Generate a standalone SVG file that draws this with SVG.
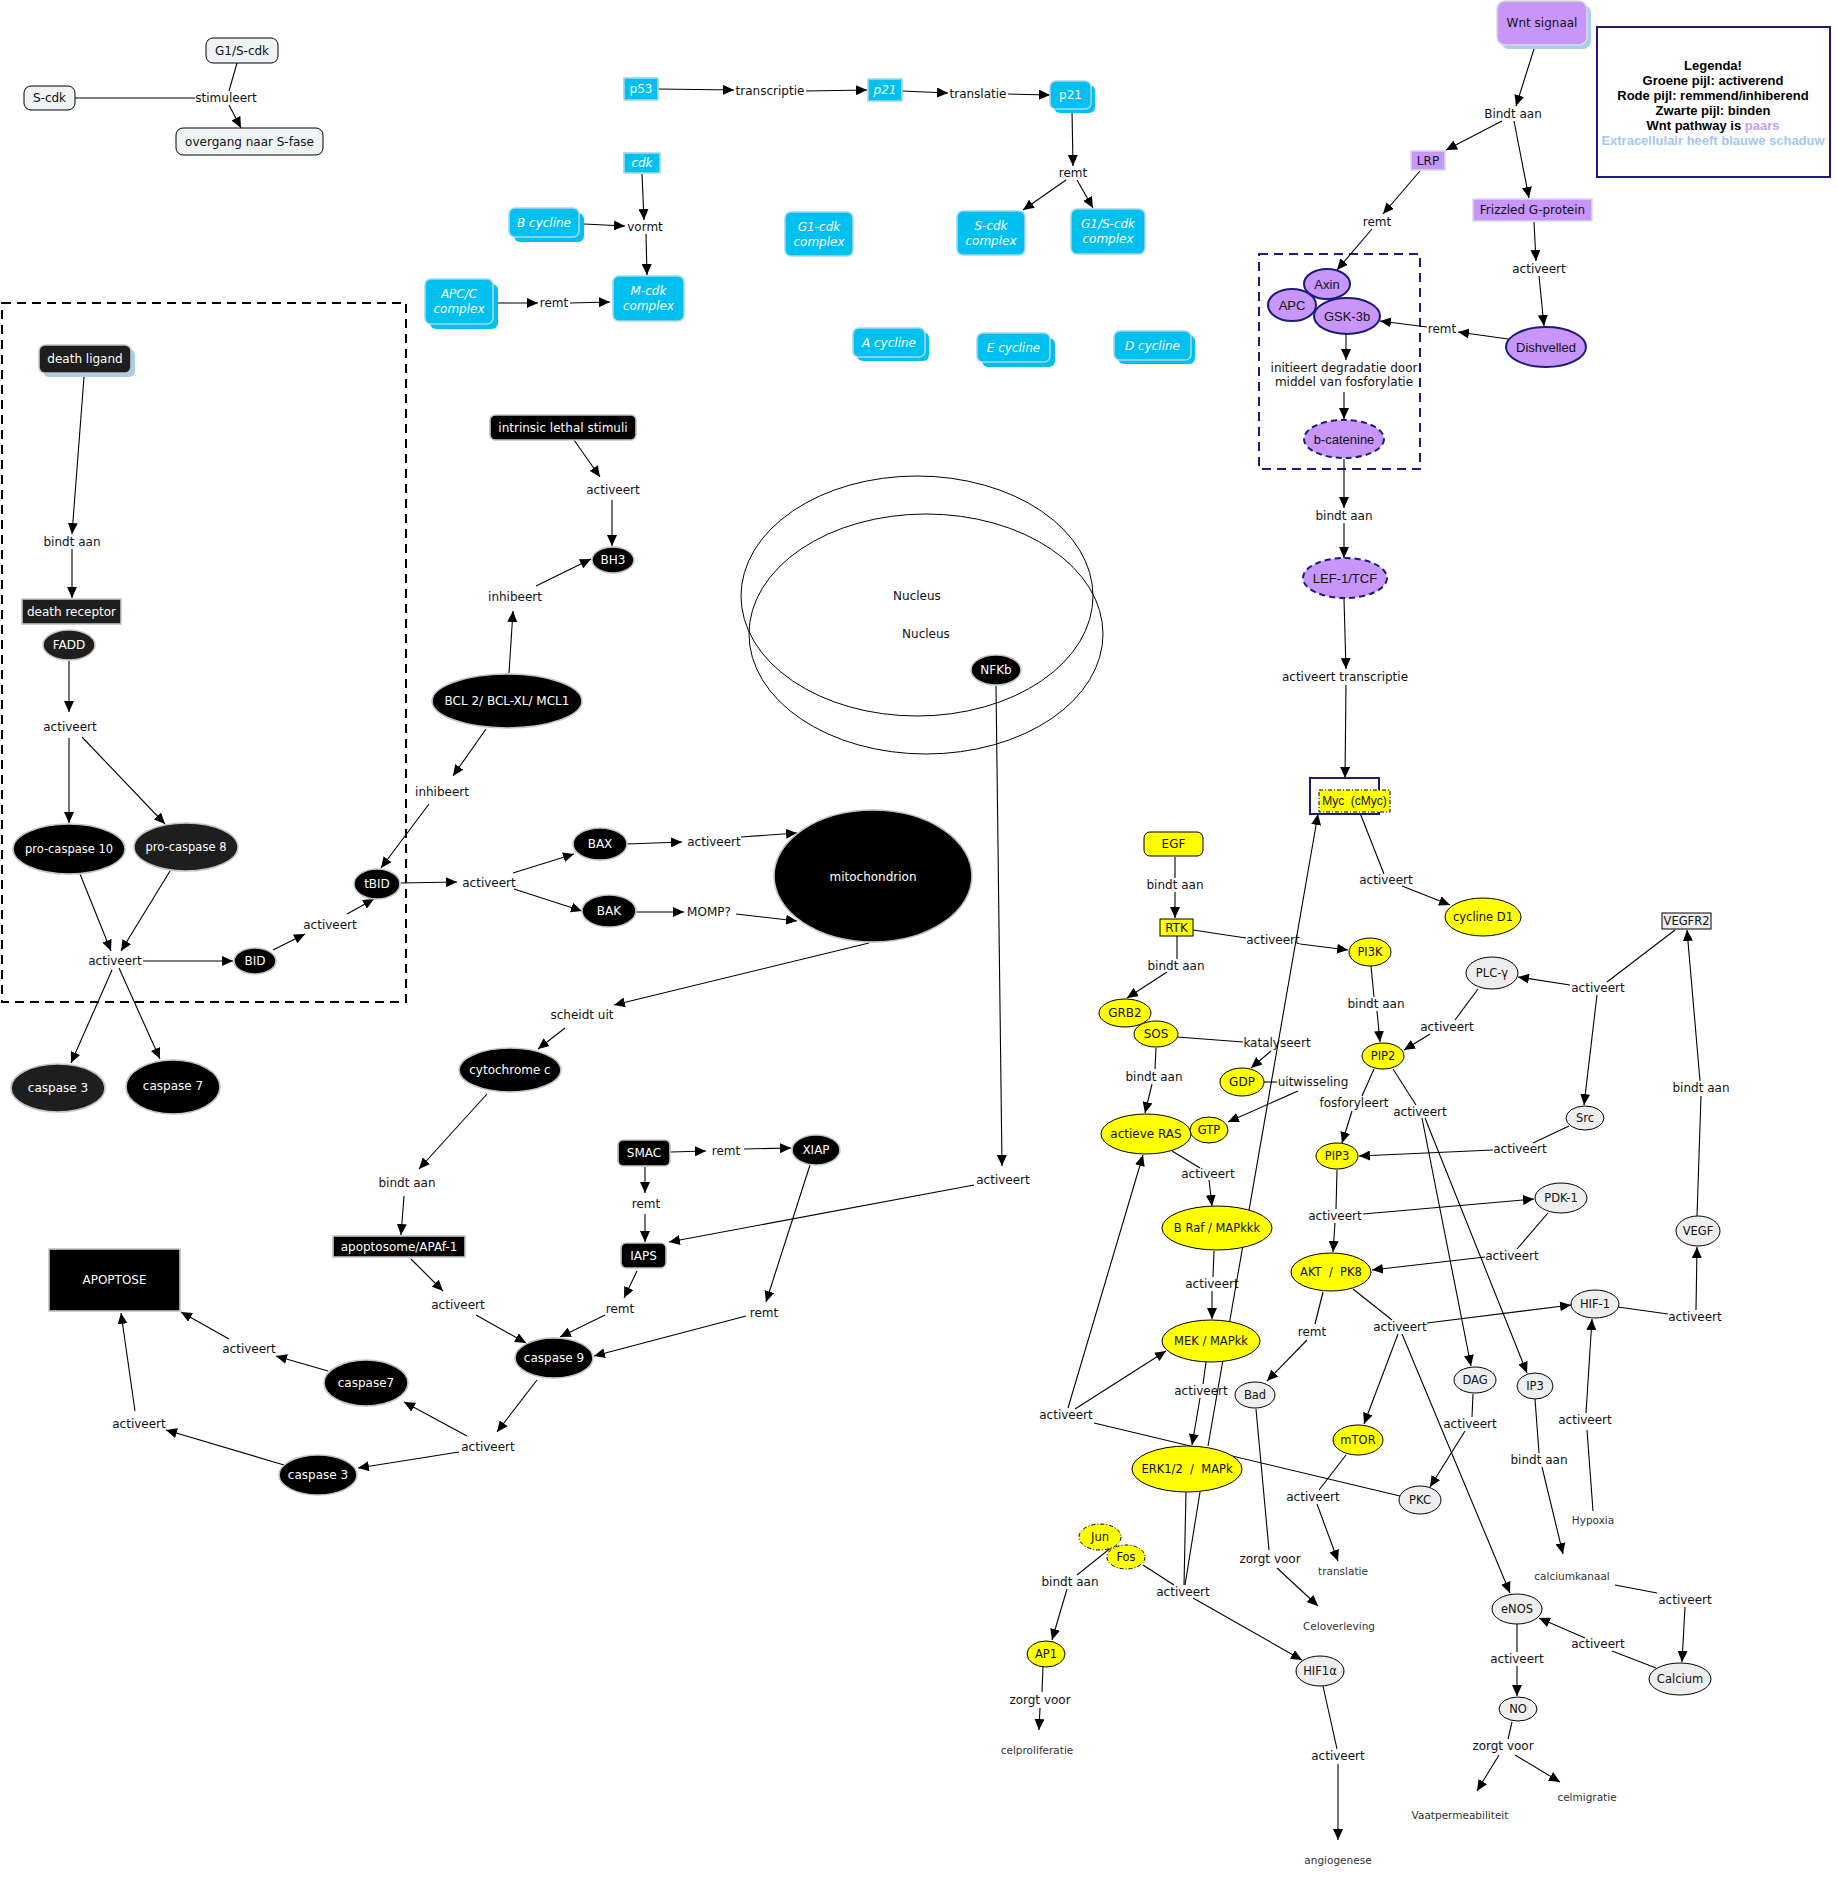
<svg xmlns="http://www.w3.org/2000/svg" width="1837" height="1884" viewBox="0 0 1837 1884">
<defs>
<marker id="ah" viewBox="0 0 11 10" refX="11" refY="5" markerWidth="11" markerHeight="10" markerUnits="userSpaceOnUse" orient="auto"><path d="M0,0 L11,5 L0,10 z" fill="#000"/></marker>
<style>
.c path{stroke:#000;stroke-width:1.1;fill:none}
.c path.a{marker-end:url(#ah)}
text{font-family:"DejaVu Sans",Verdana,sans-serif;font-size:12px;text-anchor:middle;dominant-baseline:central;fill:#111}
.w{fill:#fff}
.i{font-style:italic;fill:#fff}
.s{font-size:11.5px}
.sm{font-size:10.5px;fill:#333}
.ar{font-family:"Liberation Sans",Arial,sans-serif;font-size:13px}
.lg{font-family:"Liberation Sans",Arial,sans-serif;font-size:13px;font-weight:bold;fill:#000}
.lb{fill:#eef3f5;stroke:#000;stroke-width:1}
.cy{fill:#00c0f0;stroke:#a9d6e6;stroke-width:1.6}
.cs{fill:#00c0f0}
.dk{fill:#000;stroke:#c4c4c4;stroke-width:1.6}
.d2{fill:#1e1e1e;stroke:#c4c4c4;stroke-width:1.6}
.pu{fill:#c896fa;stroke:#dadada;stroke-width:1.6}
.pe{fill:#c896fa;stroke:#1c1c78;stroke-width:2}
.pd{fill:#c896fa;stroke:#1c1c78;stroke-width:2;stroke-dasharray:6,4}
.ye{fill:#ffff00;stroke:#000;stroke-width:1}
.yd{fill:#ffff00;stroke:#000;stroke-width:1;stroke-dasharray:4,2,1,2}
.gr{fill:#eeeeee;stroke:#000;stroke-width:1}
</style>
</defs>
<rect width="1837" height="1884" fill="#fff"/>

<g id="regions">
<rect x="2" y="303" width="404" height="699" fill="none" stroke="#000" stroke-width="2" stroke-dasharray="9,6"/>
<rect x="1259" y="254" width="161" height="215" fill="none" stroke="#1c1c78" stroke-width="2" stroke-dasharray="9,6"/>
<ellipse cx="917" cy="596" rx="176" ry="120" fill="none" stroke="#000" stroke-width="1"/>
<ellipse cx="926" cy="634" rx="177" ry="120" fill="none" stroke="#000" stroke-width="1"/>
<text x="917" y="596">Nucleus</text>
<text x="926" y="634">Nucleus</text>
</g>

<g id="connectors" class="c">
<path d="M75,98 L195,98"/>
<path d="M237,63 L229,91"/>
<path class="a" d="M229,105 L241,128"/>
<path class="a" d="M658,89 L734,90"/>
<path class="a" d="M806,91 L867,90"/>
<path class="a" d="M902,91 L948,93"/>
<path class="a" d="M1008,94 L1050,95"/>
<path class="a" d="M1072,110 L1073,166"/>
<path class="a" d="M1066,180 L1023,210"/>
<path class="a" d="M1077,180 L1093,208"/>
<path class="a" d="M642,174 L644,220"/>
<path class="a" d="M584,224 L625,226"/>
<path class="a" d="M646,234 L647,275"/>
<path class="a" d="M498,303 L538,303"/>
<path class="a" d="M570,303 L610,302"/>
<path class="a" d="M1534,49 L1516,106"/>
<path class="a" d="M1502,121 L1446,150"/>
<path class="a" d="M1514,121 L1529,198"/>
<path class="a" d="M1420,171 L1383,214"/>
<path class="a" d="M1372,229 L1337,270"/>
<path class="a" d="M1534,222 L1536,261"/>
<path class="a" d="M1539,276 L1544,326"/>
<path class="a" d="M1508,339 L1458,332"/>
<path class="a" d="M1427,327 L1380,321"/>
<path class="a" d="M1346,334 L1346,360"/>
<path class="a" d="M1344,392 L1344,419"/>
<path class="a" d="M1344,459 L1344,508"/>
<path class="a" d="M1344,523 L1344,558"/>
<path class="a" d="M1344,599 L1346,669"/>
<path class="a" d="M1346,685 L1345,778"/>
<path d="M1360,813 L1384,874"/>
<path class="a" d="M1402,886 L1450,905"/>
<path class="a" d="M84,377 L72,534"/>
<path class="a" d="M72,549 L72,598"/>
<path class="a" d="M69,661 L69,712"/>
<path class="a" d="M69,738 L69,823"/>
<path class="a" d="M82,737 L165,824"/>
<path class="a" d="M80,874 L111,951"/>
<path class="a" d="M170,871 L121,951"/>
<path class="a" d="M143,961 L233,961"/>
<path class="a" d="M112,970 L71,1063"/>
<path class="a" d="M119,968 L160,1059"/>
<path class="a" d="M273,950 L305,934"/>
<path class="a" d="M347,914 L374,899"/>
<path class="a" d="M574,440 L600,477"/>
<path class="a" d="M612,500 L612,546"/>
<path class="a" d="M509,673 L513,611"/>
<path class="a" d="M536,586 L591,559"/>
<path class="a" d="M486,729 L453,776"/>
<path class="a" d="M429,804 L381,868"/>
<path class="a" d="M401,883 L457,882"/>
<path class="a" d="M513,873 L574,854"/>
<path class="a" d="M514,889 L582,911"/>
<path class="a" d="M627,844 L682,842"/>
<path class="a" d="M741,837 L797,833"/>
<path class="a" d="M636,912 L684,912"/>
<path class="a" d="M736,914 L797,921"/>
<path class="a" d="M869,943 L614,1005"/>
<path class="a" d="M565,1028 L538,1049"/>
<path class="a" d="M487,1094 L419,1169"/>
<path class="a" d="M404,1196 L401,1235"/>
<path class="a" d="M411,1259 L443,1291"/>
<path class="a" d="M476,1315 L526,1343"/>
<path class="a" d="M671,1152 L706,1151"/>
<path class="a" d="M744,1149 L791,1148"/>
<path class="a" d="M645,1167 L645,1193"/>
<path class="a" d="M645,1214 L645,1242"/>
<path class="a" d="M996,686 L1002,1166"/>
<path class="a" d="M974,1185 L669,1242"/>
<path class="a" d="M637,1271 L624,1298"/>
<path class="a" d="M605,1315 L560,1337"/>
<path class="a" d="M810,1165 L766,1302"/>
<path class="a" d="M746,1316 L594,1356"/>
<path class="a" d="M537,1380 L497,1432"/>
<path class="a" d="M467,1436 L404,1402"/>
<path class="a" d="M459,1452 L358,1468"/>
<path class="a" d="M328,1371 L276,1356"/>
<path class="a" d="M229,1339 L181,1312"/>
<path class="a" d="M284,1465 L166,1430"/>
<path class="a" d="M135,1411 L121,1313"/>
<path d="M1175,857 L1175,878"/>
<path class="a" d="M1175,892 L1175,918"/>
<path d="M1193,930 L1246,938"/>
<path class="a" d="M1300,944 L1348,950"/>
<path d="M1177,936 L1177,959"/>
<path class="a" d="M1167,972 L1127,998"/>
<path d="M1177,1037 L1243,1042"/>
<path class="a" d="M1271,1051 L1251,1068"/>
<path d="M1264,1082 L1277,1082"/>
<path class="a" d="M1298,1091 L1228,1122"/>
<path d="M1156,1048 L1155,1069"/>
<path class="a" d="M1152,1084 L1145,1113"/>
<path d="M1172,1151 L1200,1168"/>
<path class="a" d="M1209,1180 L1212,1206"/>
<path d="M1214,1251 L1213,1277"/>
<path class="a" d="M1212,1291 L1212,1319"/>
<path class="a" d="M1208,1446 L1318,814"/>
<path d="M1206,1362 L1203,1384"/>
<path class="a" d="M1200,1398 L1192,1445"/>
<path class="a" d="M1075,1409 L1166,1351"/>
<path class="a" d="M1068,1408 L1143,1155"/>
<path d="M1400,1496 L1094,1423"/>
<path d="M1371,966 L1374,997"/>
<path class="a" d="M1377,1011 L1380,1042"/>
<path d="M1478,989 L1455,1020"/>
<path class="a" d="M1430,1034 L1404,1050"/>
<path d="M1374,1069 L1362,1096"/>
<path class="a" d="M1352,1111 L1342,1143"/>
<path d="M1393,1069 L1416,1105"/>
<path class="a" d="M1422,1118 L1471,1366"/>
<path class="a" d="M1425,1118 L1527,1373"/>
<path d="M1675,930 L1607,982"/>
<path class="a" d="M1570,985 L1518,977"/>
<path class="a" d="M1597,995 L1584,1105"/>
<path d="M1569,1126 L1533,1143"/>
<path class="a" d="M1493,1150 L1359,1156"/>
<path d="M1337,1170 L1336,1209"/>
<path class="a" d="M1335,1223 L1333,1252"/>
<path class="a" d="M1363,1214 L1534,1199"/>
<path d="M1548,1213 L1517,1249"/>
<path class="a" d="M1485,1257 L1372,1270"/>
<path d="M1323,1292 L1315,1324"/>
<path class="a" d="M1307,1340 L1267,1381"/>
<path d="M1353,1289 L1392,1320"/>
<path class="a" d="M1427,1323 L1571,1305"/>
<path class="a" d="M1398,1334 L1364,1424"/>
<path class="a" d="M1402,1334 L1510,1593"/>
<path d="M1618,1307 L1668,1314"/>
<path class="a" d="M1696,1310 L1697,1247"/>
<path d="M1697,1216 L1701,1096"/>
<path class="a" d="M1700,1081 L1687,930"/>
<path d="M1593,1511 L1587,1430"/>
<path class="a" d="M1586,1413 L1592,1319"/>
<path d="M1256,1409 L1269,1550"/>
<path class="a" d="M1277,1568 L1318,1606"/>
<path d="M1346,1455 L1319,1490"/>
<path class="a" d="M1317,1504 L1338,1561"/>
<path d="M1473,1394 L1472,1417"/>
<path class="a" d="M1465,1431 L1430,1487"/>
<path d="M1535,1399 L1539,1453"/>
<path class="a" d="M1542,1467 L1563,1554"/>
<path d="M1615,1585 L1657,1593"/>
<path class="a" d="M1685,1607 L1682,1662"/>
<path d="M1656,1668 L1612,1651"/>
<path class="a" d="M1585,1638 L1539,1618"/>
<path d="M1517,1624 L1517,1652"/>
<path class="a" d="M1517,1666 L1517,1696"/>
<path d="M1512,1722 L1508,1739"/>
<path class="a" d="M1499,1755 L1477,1791"/>
<path class="a" d="M1515,1755 L1560,1782"/>
<path d="M1112,1547 L1077,1575"/>
<path class="a" d="M1067,1589 L1052,1640"/>
<path d="M1043,1667 L1042,1692"/>
<path class="a" d="M1040,1708 L1039,1730"/>
<path d="M1186,1492 L1184,1585"/>
<path d="M1200,1492 L1185,1585"/>
<path d="M1143,1565 L1174,1585"/>
<path class="a" d="M1193,1598 L1302,1660"/>
<path d="M1323,1686 L1337,1749"/>
<path class="a" d="M1338,1764 L1338,1840"/>
</g>

<g id="link-labels">
<text x="226" y="98">stimuleert</text>
<text x="770" y="91">transcriptie</text>
<text x="978" y="94">translatie</text>
<text x="1073" y="173">remt</text>
<text x="645" y="227">vormt</text>
<text x="554" y="303">remt</text>
<text x="1513" y="114">Bindt aan</text>
<text x="1377" y="222">remt</text>
<text x="1539" y="269">activeert</text>
<text x="1442" y="329">remt</text>
<text x="1344" y="368">initieert degradatie door</text>
<text x="1344" y="382">middel van fosforylatie</text>
<text x="1344" y="516">bindt aan</text>
<text x="1345" y="677">activeert transcriptie</text>
<text x="1386" y="880">activeert</text>
<text x="72" y="542">bindt aan</text>
<text x="70" y="727">activeert</text>
<text x="115" y="961">activeert</text>
<text x="330" y="925">activeert</text>
<text x="613" y="490">activeert</text>
<text x="515" y="597">inhibeert</text>
<text x="442" y="792">inhibeert</text>
<text x="489" y="883">activeert</text>
<text x="714" y="842">activeert</text>
<text x="709" y="912">MOMP?</text>
<text x="582" y="1015">scheidt uit</text>
<text x="407" y="1183">bindt aan</text>
<text x="458" y="1305">activeert</text>
<text x="726" y="1151">remt</text>
<text x="646" y="1204">remt</text>
<text x="1003" y="1180">activeert</text>
<text x="620" y="1309">remt</text>
<text x="764" y="1313">remt</text>
<text x="488" y="1447">activeert</text>
<text x="249" y="1349">activeert</text>
<text x="139" y="1424">activeert</text>
<text x="1175" y="885">bindt aan</text>
<text x="1273" y="940">activeert</text>
<text x="1176" y="966">bindt aan</text>
<text x="1277" y="1043">katalyseert</text>
<text x="1313" y="1082">uitwisseling</text>
<text x="1154" y="1077">bindt aan</text>
<text x="1208" y="1174">activeert</text>
<text x="1212" y="1284">activeert</text>
<text x="1201" y="1391">activeert</text>
<text x="1066" y="1415">activeert</text>
<text x="1376" y="1004">bindt aan</text>
<text x="1447" y="1027">activeert</text>
<text x="1354" y="1103">fosforyleert</text>
<text x="1420" y="1112">activeert</text>
<text x="1598" y="988">activeert</text>
<text x="1520" y="1149">activeert</text>
<text x="1335" y="1216">activeert</text>
<text x="1512" y="1256">activeert</text>
<text x="1312" y="1332">remt</text>
<text x="1400" y="1327">activeert</text>
<text x="1695" y="1317">activeert</text>
<text x="1701" y="1088">bindt aan</text>
<text x="1585" y="1420">activeert</text>
<text x="1593" y="1520" class="sm">Hypoxia</text>
<text x="1270" y="1559">zorgt voor</text>
<text x="1339" y="1626" class="sm">Celoverleving</text>
<text x="1313" y="1497">activeert</text>
<text x="1343" y="1571" class="sm">translatie</text>
<text x="1470" y="1424">activeert</text>
<text x="1539" y="1460">bindt aan</text>
<text x="1572" y="1576" class="sm">calciumkanaal</text>
<text x="1685" y="1600">activeert</text>
<text x="1598" y="1644">activeert</text>
<text x="1517" y="1659">activeert</text>
<text x="1503" y="1746">zorgt voor</text>
<text x="1460" y="1815" class="sm">Vaatpermeabiliteit</text>
<text x="1587" y="1797" class="sm">celmigratie</text>
<text x="1070" y="1582">bindt aan</text>
<text x="1040" y="1700">zorgt voor</text>
<text x="1037" y="1750" class="sm">celproliferatie</text>
<text x="1183" y="1592">activeert</text>
<text x="1338" y="1756">activeert</text>
<text x="1338" y="1860" class="sm">angiogenese</text>
</g>

<g id="n-g1s-cdk"><rect class="lb" x="206" y="38" width="72" height="25" rx="7"/><text x="242" y="50.5">G1/S-cdk</text></g>
<g id="n-s-cdk"><rect class="lb" x="24" y="86" width="51" height="24" rx="7"/><text x="49.5" y="98">S-cdk</text></g>
<g id="n-overgang"><rect class="lb" x="176" y="128" width="147" height="27" rx="7"/><text x="249.5" y="141.5">overgang naar S-fase</text></g>
<g id="n-p53"><rect class="cy" x="624" y="78" width="34" height="22"/><text class="w" x="641" y="89">p53</text></g>
<g id="n-p21i"><rect class="cy" x="868" y="79" width="34" height="22"/><text class="i" x="885" y="90">p21</text></g>
<g id="n-p21"><rect class="cs" x="1054" y="85" width="41" height="28" rx="6"/><rect class="cy" x="1050" y="81" width="41" height="28" rx="6"/><text class="w" x="1070.5" y="95">p21</text></g>
<g id="n-cdk"><rect class="cy" x="624" y="153" width="36" height="20"/><text class="i" x="642" y="163">cdk</text></g>
<g id="n-bcycline"><rect class="cs" x="514" y="213" width="70" height="29" rx="6"/><rect class="cy" x="509" y="208" width="70" height="29" rx="6"/><text class="i" x="544" y="222.5">B cycline</text></g>
<g id="n-apcc"><rect class="cs" x="430" y="284" width="68" height="45" rx="6"/><rect class="cy" x="425" y="279" width="68" height="45" rx="6"/><text class="i" x="459" y="294">APC/C</text><text class="i" x="459" y="309">complex</text></g>
<g id="n-mcdk"><rect class="cy" x="613" y="276" width="71" height="45" rx="6"/><text class="i" x="648.5" y="291">M-cdk</text><text class="i" x="648.5" y="306">complex</text></g>
<g id="n-g1cdk"><rect class="cy" x="785" y="212" width="68" height="44" rx="6"/><text class="i" x="819" y="226.5">G1-cdk</text><text class="i" x="819" y="241.5">complex</text></g>
<g id="n-scdkc"><rect class="cy" x="957" y="211" width="68" height="44" rx="6"/><text class="i" x="991" y="225.5">S-cdk</text><text class="i" x="991" y="240.5">complex</text></g>
<g id="n-g1scdkc"><rect class="cy" x="1071" y="209" width="74" height="45" rx="6"/><text class="i" x="1108" y="224">G1/S-cdk</text><text class="i" x="1108" y="239">complex</text></g>
<g id="n-acycline"><rect class="cs" x="857" y="332" width="72" height="29" rx="6"/><rect class="cy" x="853" y="328" width="72" height="29" rx="6"/><text class="i" x="889" y="342.5">A cycline</text></g>
<g id="n-ecycline"><rect class="cs" x="982" y="338" width="73" height="29" rx="6"/><rect class="cy" x="977" y="333" width="73" height="29" rx="6"/><text class="i" x="1013.5" y="347.5">E cycline</text></g>
<g id="n-dcycline"><rect class="cs" x="1118" y="335" width="77" height="29" rx="6"/><rect class="cy" x="1114" y="331" width="77" height="29" rx="6"/><text class="i" x="1152.5" y="345.5">D cycline</text></g>

<g id="n-wnt"><rect x="1501" y="5" width="90" height="44" rx="8" fill="#a8ccf2"/><rect class="pu" x="1497" y="1" width="90" height="44" rx="8"/><text x="1542" y="23">Wnt signaal</text></g>
<g id="n-lrp"><rect class="pu" x="1411" y="151" width="34" height="19"/><text x="1428" y="160.5">LRP</text></g>
<g id="n-frizzled"><rect class="pu" x="1473" y="199" width="119" height="22"/><text x="1532.5" y="210">Frizzled G-protein</text></g>
<g id="n-dishvelled"><ellipse class="pe" cx="1546" cy="347" rx="40" ry="20"/><text class="ar" x="1546" y="347">Dishvelled</text></g>
<g id="n-apc"><ellipse class="pe" cx="1292" cy="305" rx="24" ry="16"/><text class="ar" x="1292" y="305">APC</text></g>
<g id="n-axin"><ellipse class="pe" cx="1327" cy="284" rx="23" ry="15"/><text class="ar" x="1327" y="284">Axin</text></g>
<g id="n-gsk3b"><ellipse class="pe" cx="1347" cy="316" rx="33" ry="18"/><text class="ar" x="1347" y="316">GSK-3b</text></g>
<g id="n-bcatenine"><ellipse class="pd" cx="1344" cy="439" rx="40" ry="19"/><text class="ar" x="1344" y="439">b-catenine</text></g>
<g id="n-lef"><ellipse class="pd" cx="1345" cy="578" rx="42" ry="20"/><text class="ar" x="1345" y="578">LEF-1/TCF</text></g>
<g id="n-myc"><rect x="1310" y="778" width="69" height="36" fill="none" stroke="#1c1c78" stroke-width="2"/><rect class="yd" x="1319" y="790" width="71" height="22"/><text class="ar" style="font-size:12px" x="1354.5" y="801" xml:space="preserve">Myc  (cMyc)</text></g>

<g id="legend">
<rect x="1597" y="27" width="233" height="150" fill="#fff" stroke="#1c1c78" stroke-width="2"/>
<text class="lg" x="1713" y="65">Legenda!</text>
<text class="lg" x="1713" y="80">Groene pijl: activerend</text>
<text class="lg" x="1713" y="95">Rode pijl: remmend/inhiberend</text>
<text class="lg" x="1713" y="110">Zwarte pijl: binden</text>
<text class="lg" x="1713" y="125">Wnt pathway is <tspan fill="#c8a0f2">paars</tspan></text>
<text class="lg" x="1713" y="140" style="fill:#a4c8f0">Extracellulair heeft blauwe schaduw</text>
</g>

<g id="n-deathligand"><rect x="43" y="349" width="92" height="28" rx="6" fill="#a8ccf2"/><rect class="d2" x="39" y="345" width="92" height="28" rx="6"/><text class="w" x="85" y="359">death ligand</text></g>
<g id="n-deathreceptor"><rect class="d2" x="22" y="599" width="99" height="25"/><text class="w" x="71.5" y="611.5">death receptor</text></g>
<g id="n-fadd"><ellipse class="d2" cx="69" cy="645" rx="26" ry="15"/><text class="w" x="69" y="645">FADD</text></g>
<g id="n-procasp10"><ellipse class="dk" cx="69" cy="849" rx="56" ry="25"/><text class="w s" x="69" y="849">pro-caspase 10</text></g>
<g id="n-procasp8"><ellipse class="d2" cx="186" cy="847" rx="52" ry="24"/><text class="w s" x="186" y="847">pro-caspase 8</text></g>
<g id="n-bid"><ellipse class="dk" cx="255" cy="961" rx="21" ry="13"/><text class="w" x="255" y="961">BID</text></g>
<g id="n-tbid"><ellipse class="dk" cx="377" cy="884" rx="23" ry="15"/><text class="w" x="377" y="884">tBID</text></g>
<g id="n-casp3a"><ellipse class="d2" cx="58" cy="1088" rx="47" ry="24"/><text class="w" x="58" y="1088">caspase 3</text></g>
<g id="n-casp7a"><ellipse class="dk" cx="173" cy="1087" rx="47" ry="27"/><text class="w" x="173" y="1086">caspase 7</text></g>
<g id="n-intrinsic"><rect class="dk" x="490" y="415" width="146" height="25" rx="5"/><text class="w" x="563" y="427.5">intrinsic lethal stimuli</text></g>
<g id="n-bh3"><ellipse class="dk" cx="613" cy="560" rx="21" ry="13"/><text class="w" x="613" y="560">BH3</text></g>
<g id="n-bcl2"><ellipse class="dk" cx="507" cy="701" rx="75" ry="27"/><text class="w" x="507" y="701">BCL 2/ BCL-XL/ MCL1</text></g>
<g id="n-bax"><ellipse class="dk" cx="600" cy="844" rx="27" ry="16"/><text class="w" x="600" y="844">BAX</text></g>
<g id="n-bak"><ellipse class="dk" cx="609" cy="911" rx="27" ry="16"/><text class="w" x="609" y="911">BAK</text></g>
<g id="n-mito"><ellipse class="dk" cx="873" cy="876" rx="99" ry="66"/><text class="w" x="873" y="877">mitochondrion</text></g>
<g id="n-nfkb"><ellipse class="dk" cx="996" cy="670" rx="25" ry="15"/><text class="w" x="996" y="670">NFKb</text></g>
<g id="n-cytc"><ellipse class="dk" cx="510" cy="1070" rx="51" ry="22"/><text class="w" x="510" y="1070">cytochrome c</text></g>
<g id="n-apoptosome"><rect class="dk" x="333" y="1236" width="132" height="21"/><text class="w" x="399" y="1246.5">apoptosome/APAf-1</text></g>
<g id="n-apoptose"><rect class="dk" x="49" y="1249" width="131" height="62"/><text class="w" x="114.5" y="1280">APOPTOSE</text></g>
<g id="n-smac"><rect class="dk" x="618" y="1140" width="52" height="26" rx="5"/><text class="w" x="644" y="1153">SMAC</text></g>
<g id="n-xiap"><ellipse class="dk" cx="816" cy="1150" rx="24" ry="15"/><text class="w" x="816" y="1150">XIAP</text></g>
<g id="n-iaps"><rect class="dk" x="621" y="1243" width="45" height="25" rx="5"/><text class="w" x="643.5" y="1255.5">IAPS</text></g>
<g id="n-casp9"><ellipse class="dk" cx="554" cy="1358" rx="39" ry="20"/><text class="w" x="554" y="1358">caspase 9</text></g>
<g id="n-casp7b"><ellipse class="dk" cx="366" cy="1383" rx="42" ry="23"/><text class="w" x="366" y="1383">caspase7</text></g>
<g id="n-casp3b"><ellipse class="dk" cx="318" cy="1475" rx="39" ry="20"/><text class="w" x="318" y="1475">caspase 3</text></g>

<g id="n-egf"><rect class="ye" x="1144" y="832" width="59" height="24" rx="6"/><text x="1173.5" y="844">EGF</text></g>
<g id="n-rtk"><rect class="ye" x="1160" y="919" width="33" height="17"/><text x="1176.5" y="927.5">RTK</text></g>
<g id="n-pi3k"><ellipse class="ye" cx="1370" cy="952" rx="21" ry="14"/><text class="s" x="1370" y="952">PI3K</text></g>
<g id="n-grb2"><ellipse class="ye" cx="1125" cy="1013" rx="26" ry="14"/><text x="1125" y="1013">GRB2</text></g>
<g id="n-sos"><ellipse class="ye" cx="1156" cy="1034" rx="22" ry="13"/><text x="1156" y="1034">SOS</text></g>
<g id="n-gdp"><ellipse class="ye" cx="1242" cy="1082" rx="22" ry="14"/><text x="1242" y="1082">GDP</text></g>
<g id="n-ras"><ellipse class="ye" cx="1146" cy="1134" rx="45" ry="20"/><text x="1146" y="1134">actieve RAS</text></g>
<g id="n-gtp"><ellipse class="ye" cx="1209" cy="1130" rx="19" ry="13"/><text class="s" x="1209" y="1130">GTP</text></g>
<g id="n-braf"><ellipse class="ye" cx="1217" cy="1228" rx="55" ry="22"/><text class="s" x="1217" y="1228">B Raf / MAPkkk</text></g>
<g id="n-mek"><ellipse class="ye" cx="1211" cy="1341" rx="49" ry="21"/><text class="s" x="1211" y="1341">MEK / MAPkk</text></g>
<g id="n-erk"><ellipse class="ye" cx="1187" cy="1469" rx="55" ry="23"/><text class="s" x="1187" y="1469" xml:space="preserve">ERK1/2  /  MAPk</text></g>
<g id="n-pip2"><ellipse class="ye" cx="1383" cy="1056" rx="21" ry="13"/><text class="s" x="1383" y="1056">PIP2</text></g>
<g id="n-pip3"><ellipse class="ye" cx="1337" cy="1156" rx="21" ry="13"/><text class="s" x="1337" y="1156">PIP3</text></g>
<g id="n-akt"><ellipse class="ye" cx="1331" cy="1272" rx="40" ry="19"/><text class="s" x="1331" y="1272" xml:space="preserve">AKT  /  PK8</text></g>
<g id="n-cyclined1"><ellipse class="ye" cx="1483" cy="917" rx="38" ry="19"/><text class="s" x="1483" y="917">cycline D1</text></g>
<g id="n-mtor"><ellipse class="ye" cx="1358" cy="1440" rx="25" ry="15"/><text class="s" x="1358" y="1440">mTOR</text></g>
<g id="n-jun"><ellipse class="yd" cx="1100" cy="1537" rx="21" ry="13"/><text class="s" x="1100" y="1537">Jun</text></g>
<g id="n-fos"><ellipse class="yd" cx="1126" cy="1557" rx="19" ry="12"/><text class="s" x="1126" y="1557">Fos</text></g>
<g id="n-ap1"><ellipse class="ye" cx="1046" cy="1654" rx="19" ry="13"/><text class="s" x="1046" y="1654">AP1</text></g>
<g id="n-vegfr2"><rect class="gr" x="1662" y="913" width="49" height="16"/><text class="s" x="1686.5" y="921">VEGFR2</text></g>
<g id="n-plc"><ellipse class="gr" cx="1492" cy="973" rx="26" ry="16"/><text class="s" x="1492" y="973">PLC-γ</text></g>
<g id="n-src"><ellipse class="gr" cx="1585" cy="1118" rx="19" ry="12"/><text class="s" x="1585" y="1118">Src</text></g>
<g id="n-pdk1"><ellipse class="gr" cx="1561" cy="1198" rx="26" ry="15"/><text class="s" x="1561" y="1198">PDK-1</text></g>
<g id="n-hif1"><ellipse class="gr" cx="1595" cy="1304" rx="24" ry="14"/><text class="s" x="1595" y="1304">HIF-1</text></g>
<g id="n-vegf"><ellipse class="gr" cx="1698" cy="1231" rx="22" ry="15"/><text class="s" x="1698" y="1231">VEGF</text></g>
<g id="n-dag"><ellipse class="gr" cx="1475" cy="1380" rx="21" ry="13"/><text class="s" x="1475" y="1380">DAG</text></g>
<g id="n-ip3"><ellipse class="gr" cx="1535" cy="1386" rx="18" ry="13"/><text class="s" x="1535" y="1386">IP3</text></g>
<g id="n-bad"><ellipse class="gr" cx="1255" cy="1395" rx="20" ry="13"/><text class="s" x="1255" y="1395">Bad</text></g>
<g id="n-pkc"><ellipse class="gr" cx="1420" cy="1500" rx="21" ry="14"/><text class="s" x="1420" y="1500">PKC</text></g>
<g id="n-hif1a"><ellipse class="gr" cx="1320" cy="1671" rx="24" ry="15"/><text class="s" x="1320" y="1671">HIF1α</text></g>
<g id="n-enos"><ellipse class="gr" cx="1517" cy="1609" rx="25" ry="15"/><text class="s" x="1517" y="1609">eNOS</text></g>
<g id="n-calcium"><ellipse class="gr" cx="1680" cy="1679" rx="31" ry="16"/><text class="s" x="1680" y="1679">Calcium</text></g>
<g id="n-no"><ellipse class="gr" cx="1518" cy="1709" rx="19" ry="12"/><text class="s" x="1518" y="1709">NO</text></g>
</svg>
